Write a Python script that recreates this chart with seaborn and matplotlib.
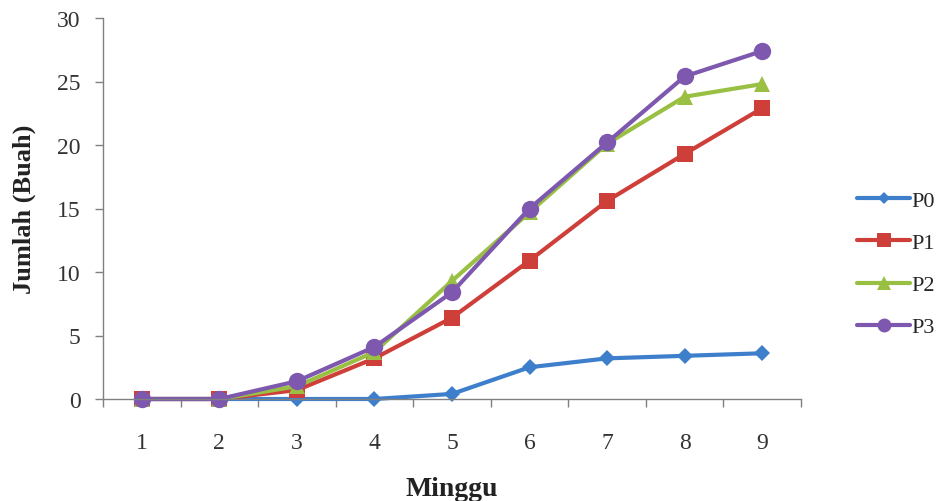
import matplotlib
matplotlib.use("Agg")
import matplotlib.pyplot as plt
import seaborn as sns
import pandas as pd
from matplotlib.lines import Line2D

weeks = [1, 2, 3, 4, 5, 6, 7, 8, 9]
p0 = [0, 0, 0, 0, 0.4, 2.5, 3.2, 3.4, 3.6]
p1 = [0, 0, 0.7, 3.2, 6.4, 10.9, 15.6, 19.3, 22.9]
p2 = [0, 0, 1.0, 3.7, 9.3, 14.7, 20.1, 23.8, 24.8]
p3 = [0, 0, 1.4, 4.1, 8.4, 15.0, 20.2, 25.4, 27.4]
series_names = ["P0", "P1", "P2", "P3"]
colors = ["#3E7FCC", "#CF3F3A", "#99C043", "#7E58AE"]
markers = ["D", "s", "^", "o"]
msizes = [8, 12, 12, 12.5]

rows = []
for name, vals in zip(series_names, [p0, p1, p2, p3]):
    for w, v in zip(weeks, vals):
        rows.append({"Minggu": w, "Jumlah": v, "Seri": name})
df = pd.DataFrame(rows)

sns.set_style("white")
plt.rcParams["font.family"] = ["Liberation Serif", "DejaVu Serif"]

fig = plt.figure(figsize=(9.41, 5.02), dpi=100)
ax = fig.add_axes([103 / 941, (502 - 400) / 502, (801 - 103) / 941, (400 - 19) / 502])

for name, c, m, ms in zip(series_names, colors, markers, msizes):
    sub = df[df["Seri"] == name]
    sns.lineplot(data=sub, x="Minggu", y="Jumlah", ax=ax, color=c, marker=m,
                 markersize=ms, markeredgewidth=0, linewidth=3.0, legend=False,
                 clip_on=False)

ax.set_xlim(0.5, 9.5)
ax.set_ylim(0, 30)
ax.set_yticks([0, 5, 10, 15, 20, 25, 30])
ax.set_xticks(weeks)
ax.set_xticks([x + 0.5 for x in range(0, 10)], minor=True)
ax.tick_params(axis="x", which="major", length=0, pad=24, labelsize=17)
ax.tick_params(axis="x", which="minor", length=6, direction="out", color="#808080", width=1)
ax.tick_params(axis="y", which="major", length=6, direction="out", color="#808080",
               width=1, labelsize=17, pad=10)
for lab in ax.get_yticklabels() + ax.get_xticklabels():
    lab.set_color("#333333")
ax.yaxis.set_tick_params(left=True)
ax.xaxis.set_tick_params(which="minor", bottom=True)

for s in ["top", "right"]:
    ax.spines[s].set_visible(False)
for s in ["left", "bottom"]:
    ax.spines[s].set_color("#808080")
    ax.spines[s].set_linewidth(1)

ax.set_xlabel("Minggu", fontsize=20, fontweight="bold", labelpad=16, color="#222222")
ax.set_ylabel("Jumlah (Buah)", fontsize=19, fontweight="bold", labelpad=15, color="#222222")

handles = [Line2D([0], [0], color=c, marker=m, markersize=ms * 0.8, markeredgewidth=0, linewidth=3.0)
           for c, m, ms in zip(colors, markers, msizes)]
fig.legend(handles, series_names, loc="center left", bbox_to_anchor=(848 / 941, 1 - 265 / 502),
           frameon=False, fontsize=16, handlelength=2.4, handletextpad=0.05, labelspacing=0.97,
           borderaxespad=0)

fig.savefig("out.png", dpi=100)
